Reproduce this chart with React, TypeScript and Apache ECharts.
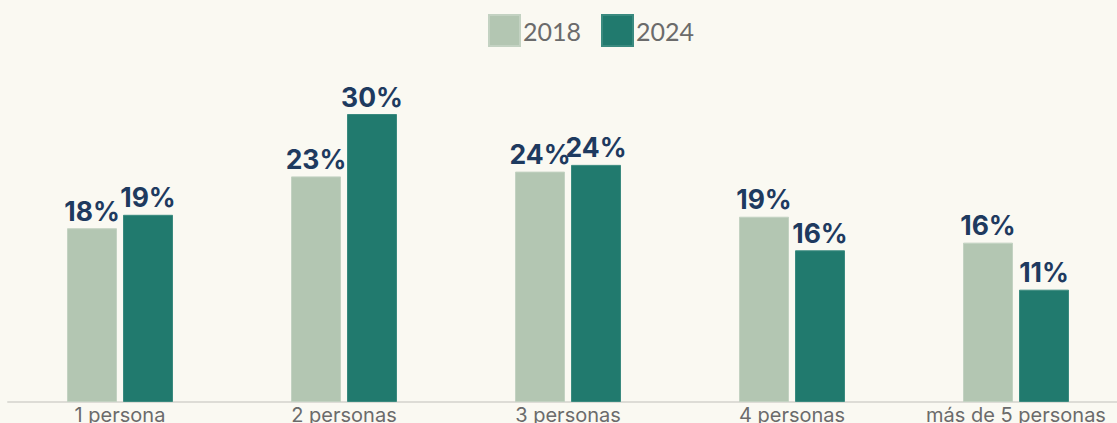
import React, { useEffect, useRef } from "react";
import * as echarts from "echarts";

const categories = ["1 persona", "2 personas", "3 personas", "4 personas", "más de 5 personas"];
const values2018 = [18.1, 23.5, 24.0, 19.3, 16.6];
const values2024 = [19.5, 30.0, 24.7, 15.8, 11.7];
const labels2018 = ["18%", "23%", "24%", "19%", "16%"];
const labels2024 = ["19%", "30%", "24%", "16%", "11%"];

export default function App() {
  const ref = useRef<HTMLDivElement>(null);
  useEffect(() => {
    document.body.style.margin = "0";
    const chart = echarts.init(ref.current!, null, { renderer: "svg" });
    const labelStyle = {
      show: true,
      position: "top" as const,
      distance: 4,
      color: "#1e3a5f",
      fontFamily: "Inter",
      fontWeight: "bold" as const,
      fontSize: 26.5,
    };
    chart.setOption({
      animation: false,
      backgroundColor: "#faf9f2",
      legend: {
        top: 14,
        left: 488,
        padding: 0,
        itemWidth: 31,
        itemHeight: 31,
        itemGap: 20,
        icon: "rect",
        textStyle: { color: "#6b6b6b", fontSize: 25, fontFamily: "Lato", padding: [0, 0, 0, -2] },
        data: ["2018", "2024"],
      },
      grid: { left: 8, width: 1120, top: 114, bottom: 21, outerBoundsMode: "none", containLabel: false },
      xAxis: {
        type: "category",
        data: categories,
        axisLine: { lineStyle: { color: "#dddcd6", width: 2 } },
        axisTick: { show: false },
        axisLabel: { interval: 0, hideOverlap: false, color: "#6b6b6b", fontSize: 20, fontFamily: "Inter", margin: 3 },
      },
      yAxis: { type: "value", min: 0, max: 30, show: false, splitLine: { show: false } },
      series: [
        {
          name: "2018",
          type: "bar",
          data: values2018,
          barWidth: 50,
          barGap: "12%",
          itemStyle: { color: "#b3c6b2", borderColor: "#c3d2c2", borderWidth: 1 },
          label: { ...labelStyle, formatter: (p: any) => labels2018[p.dataIndex] },
        },
        {
          name: "2024",
          type: "bar",
          data: values2024,
          barWidth: 50,
          barGap: "12%",
          itemStyle: { color: "#217a6e", borderColor: "#3a8a7f", borderWidth: 1 },
          label: { ...labelStyle, formatter: (p: any) => labels2024[p.dataIndex] },
        },
      ],
    });
    return () => chart.dispose();
  }, []);
  return <div ref={ref} style={{ width: 1117, height: 423 }} />;
}
